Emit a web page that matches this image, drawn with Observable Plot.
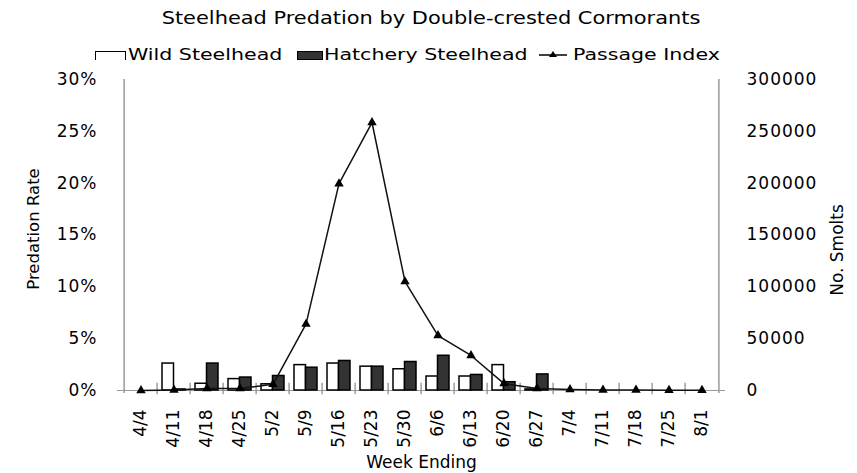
<!DOCTYPE html>
<html><head><meta charset="utf-8">
<script src="https://cdn.jsdelivr.net/npm/d3@7"></script>
<script src="https://cdn.jsdelivr.net/npm/@observablehq/plot@0.6"></script>
<style>
body{margin:0;background:#fff;font-family:"DejaVu Sans",sans-serif;color:#000;}
#wrap{position:relative;width:857px;height:473px;overflow:hidden;}
#title{position:absolute;left:0;top:6px;width:862px;text-align:center;font-size:17px;line-height:24px;transform:scaleX(1.23);transform-origin:431px 0;}
.leg{position:absolute;top:44px;height:22px;line-height:22px;font-size:15px;white-space:nowrap;}
.lt{position:absolute;top:0;transform:scaleX(1.37);transform-origin:0 0;}
.sw{position:absolute;box-sizing:border-box;}
#chart{position:absolute;left:0;top:65px;}
#chart g[aria-label="y-axis tick label"] text{letter-spacing:1px;}
</style></head>
<body><div id="wrap">
<div id="title">Steelhead Predation by Double-crested Cormorants</div>
<div class="leg" style="left:95px;width:200px;"><span class="sw" style="left:0;top:7px;width:31px;height:9px;border:1.5px solid #000;border-bottom:none;background:#fff;"></span><span class="lt" style="left:33px;">Wild Steelhead</span></div>
<div class="leg" style="left:297px;width:240px;"><span class="sw" style="left:0;top:7px;width:26px;height:9px;background:#333;border:1px solid #000;"></span><span class="lt" style="left:27px;">Hatchery Steelhead</span></div>
<div class="leg" style="left:538px;width:220px;"><svg width="30" height="22" style="position:absolute;left:0;top:0"><line x1="1" x2="29" y1="11" y2="11" stroke="#000" stroke-width="1.5"/><path d="M15,7 L19,13 L11,13 Z" fill="#000"/></svg><span class="lt" style="left:35px;">Passage Index</span></div>
<div id="chart"></div>
</div>
<script>
const weeks = ["4/4","4/11","4/18","4/25","5/2","5/9","5/16","5/23","5/30","6/6","6/13","6/20","6/27","7/4","7/11","7/18","7/25","8/1"];
const wildRate = [0, 2.6, 0.65, 1.1, 0.6, 2.45, 2.6, 2.3, 2.05, 1.35, 1.35, 2.45, 0.1, 0, 0, 0, 0, 0];
const hatcheryRate = [0, 0.1, 2.6, 1.25, 1.4, 2.2, 2.85, 2.3, 2.75, 3.35, 1.5, 0.8, 1.55, 0, 0, 0, 0, 0];
const passageIndex = [0, 500, 2000, 2000, 6000, 64000, 199500, 258500, 105000, 53000, 33800, 6700, 2000, 1000, 500, 500, 300, 200];
const leftTicks = [0, 5, 10, 15, 20, 25, 30];
const rightTicks = [0, 50000, 100000, 150000, 200000, 250000, 300000];

const rows = weeks.map((w, i) => ({week: w, wild: wildRate[i], hatchery: hatcheryRate[i], passage: passageIndex[i]}));
const W = 857, H = 408, mL = 117, mR = 132, mT = 14, mB = 83;
const bw = (W - mL - mR) / weeks.length;
const toLeft = v => v / 10000; // 300000 smolts <-> 30%

const chart = Plot.plot({
  width: W, height: H,
  marginLeft: mL, marginRight: mR, marginTop: mT, marginBottom: mB,
  x: {type: "band", domain: weeks, padding: 0},
  y: {domain: [0, 30]},
  style: {fontFamily: "'DejaVu Sans', sans-serif", fontSize: "17px", color: "#000", background: "#fff", overflow: "visible"},
  marks: [
    Plot.axisY({anchor: "left", ticks: leftTicks, tickSize: 0, tickPadding: 20, tickFormat: d => d + "%", label: null}),
    Plot.axisY({anchor: "right", ticks: rightTicks.map(toLeft), tickSize: 0, tickPadding: 21, tickFormat: d => String(Math.round(d * 10000)), label: null}),
    Plot.axisX({tickRotate: -90, tickSize: 0, tickPadding: 19, fontSize: 17, label: null}),
    Plot.text(["Predation Rate"], {text: d => d, frameAnchor: "left", textAnchor: "middle", rotate: -90, dx: -84, dy: -6, fontSize: 16.5}),
    Plot.text(["No. Smolts"], {text: d => d, frameAnchor: "right", textAnchor: "middle", rotate: -90, dx: 112, dy: 15, fontSize: 17}),
    Plot.text(["Week Ending"], {text: d => d, frameAnchor: "bottom", dy: 77, fontSize: 17}),
    Plot.ruleX([weeks[0]], {dx: -bw / 2, y1: -0.3, y2: 30, stroke: "#999", strokeWidth: 1.5}),
    Plot.ruleX([weeks[weeks.length - 1]], {dx: bw / 2, y1: -0.3, y2: 30, stroke: "#999", strokeWidth: 1.5}),
    Plot.ruleY([0], {stroke: "#999", strokeWidth: 1}),
    Plot.ruleX(weeks.slice(1), {dx: -bw / 2, y1: -0.4, y2: 0.7, stroke: "#888", strokeWidth: 1.2}),
    Plot.barY(rows, {x: "week", y: "wild", fill: "#fff", stroke: "#000", strokeWidth: 1.5, insetLeft: 5, insetRight: 16.5}),
    Plot.barY(rows, {x: "week", y: "hatchery", fill: "#333", stroke: "#000", strokeWidth: 1.5, insetLeft: 16.5, insetRight: 5}),
    Plot.line(rows, {x: "week", y: d => toLeft(d.passage), stroke: "#111", strokeWidth: 1.5}),
    Plot.dot(rows, {x: "week", y: d => toLeft(d.passage), symbol: "triangle", r: 3.5, fill: "#000", stroke: "none"})
  ]
});
document.getElementById("chart").append(chart);
</script>
</body></html>
